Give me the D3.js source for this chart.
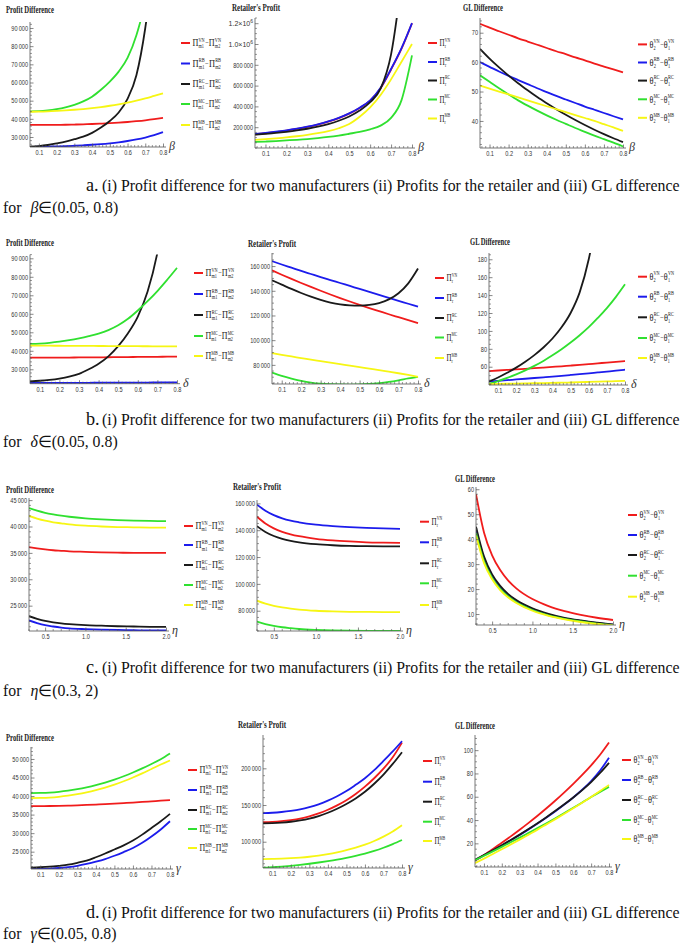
<!DOCTYPE html>
<html><head><meta charset="utf-8">
<script src="https://cdn.jsdelivr.net/npm/d3@7"></script>
<style>body{margin:0;background:#fff}svg{display:block}</style>
</head><body>
<svg id="fig" width="685" height="945"></svg>
<script>
// ---------------- data ----------------
const betaValues  = [0.05,0.1,0.15,0.2,0.25,0.3,0.35,0.4,0.45,0.5,0.55,0.6,0.65,0.7,0.75,0.8];
const deltaValues = [0.05,0.1,0.15,0.2,0.25,0.3,0.35,0.4,0.45,0.5,0.55,0.6,0.65,0.7,0.75,0.8];
const etaValues   = [0.3,0.4,0.5,0.6,0.7,0.8,1.0,1.2,1.4,1.6,1.8,2.0];
const gammaValues = [0.05,0.1,0.15,0.2,0.25,0.3,0.35,0.4,0.45,0.5,0.55,0.6,0.65,0.7,0.75,0.8];

const seriesKeys = ["VN","RB","RC","MC","MB"];

// (a) beta
const a1VN = [36700,36650,36650,36700,36750,36850,37000,37150,37350,37600,37900,38250,38700,39200,39800,40500];
const a1RB = [24600,24650,24750,24850,25000,25200,25450,25750,26100,26550,27100,27800,28650,29700,31000,32700];
const a1RC = [24700,25000,25600,26500,27500,28800,30200,32300,35200,38800,43500,51000,64000,90000,130000,200000];
const a1MC = [44100,44200,44600,45300,46300,47700,49600,52200,56000,60500,66000,73500,86000,105000,135000,180000];
const a1MB = [43900,43950,44100,44350,44650,45000,45400,45900,46500,47200,48000,48900,50000,51200,52600,54000];

const a2VN = [132000,142000,154000,167000,183000,202000,225000,253000,287000,330000,385000,455000,575000,755000,955000,1200000];
const a2RB = [135000,145000,157000,170000,186000,205000,228000,256000,290000,333000,388000,458000,580000,760000,960000,1200000];
const a2RC = [128000,136000,145000,156000,169000,185000,205000,230000,262000,303000,360000,440000,570000,900000,1600000,2500000];
const a2MC = [58000,62000,67000,73000,79000,86000,95000,106000,120000,137000,155000,180000,215000,290000,460000,890000];
const a2MB = [78000,85000,93000,102000,113000,126000,142000,162000,190000,230000,300000,390000,510000,660000,830000,1000000];

const a3VN = [73.0,71.7,70.5,69.3,68.1,67.0,65.9,64.8,63.7,62.7,61.6,60.6,59.5,58.5,57.5,56.5];
const a3RB = [60.0,58.4,56.8,55.3,53.9,52.5,51.1,49.8,48.5,47.3,46.1,44.9,43.8,42.7,41.6,40.5];
const a3RC = [64.5,61.2,58.2,55.4,52.8,50.4,48.1,46.0,44.0,42.1,40.3,38.6,37.0,35.5,34.1,32.8];
const a3MC = [55.5,53.3,51.1,49.0,47.0,45.2,43.5,41.9,40.4,39.0,37.6,36.3,35.0,33.8,32.6,31.3];
const a3MB = [52.0,51.0,50.0,49.0,48.0,47.0,46.0,45.0,44.0,43.0,42.0,41.0,40.0,38.9,37.8,36.6];

// (b) delta
const b1VN = [36300,36300,36300,36350,36350,36400,36400,36450,36500,36550,36600,36650,36700,36750,36800,36850];
const b1RB = [22600,22600,22620,22640,22660,22680,22700,22720,22740,22760,22780,22800,22830,22860,22890,22920];
const b1RC = [23500,23800,24300,25000,26000,27500,30000,33000,37000,42500,49500,58500,72000,93000,125000,170000];
const b1MC = [43700,43900,44300,44900,45700,46700,47900,49300,51200,53800,57300,61800,66800,72300,78400,84800];
const b1MB = [42800,42770,42740,42710,42680,42650,42620,42590,42560,42530,42500,42470,42440,42410,42380,42350];

const b2VN = [156500,153000,149600,146300,143100,140000,137000,134100,131300,128600,126000,123500,121000,118600,116200,113800];
const b2RB = [164000,161300,158700,156100,153600,151100,148700,146300,143900,141500,139100,136700,134300,131900,129500,127100];
const b2RC = [148500,145000,141500,138200,135200,132600,130500,129000,128200,128000,128500,130000,133000,138000,146000,158000];
const b2MC = [73700,71000,68800,67000,65600,64700,64300,64100,64000,64100,64500,65200,66200,67500,69000,70300];
const b2MB = [89500,88100,86800,85500,84200,83000,81800,80600,79400,78200,77000,75800,74500,73200,71800,70300];

const b3VN = [55.2,55.8,56.4,57.0,57.7,58.4,59.1,59.8,60.5,61.3,62.1,62.9,63.8,64.6,65.5,66.4];
const b3RB = [43.6,44.3,45.0,45.8,46.6,47.4,48.2,49.0,49.9,50.8,51.7,52.6,53.6,54.6,55.6,56.7];
const b3RC = [43.5,48.0,53.2,59.0,65.6,73.0,81.5,91.5,104,120,143,180,235,310,410,540];
const b3MC = [41,44,47.5,51.5,56,61,66.5,72.7,79.5,87,95.2,104.2,114.5,125.5,138,152];
const b3MB = [40.6,40.8,41.0,41.2,41.4,41.6,41.8,42.0,42.2,42.4,42.7,43.0,43.3,43.6,43.9,44.2];

// (c) eta
const c1VN = [36100,35850,35650,35500,35400,35300,35200,35100,35050,35000,35000,35000];
const c1RB = [22200,21700,21300,21050,20850,20700,20550,20450,20400,20350,20300,20300];
const c1RC = [23000,22500,22100,21850,21650,21500,21300,21200,21100,21050,21000,21000];
const c1MC = [43500,43000,42600,42300,42050,41850,41550,41350,41200,41100,41050,41000];
const c1MB = [42000,41500,41100,40800,40600,40400,40150,40000,39900,39850,39800,39800];

const c2VN = [150000,145000,141400,138800,136900,135500,133600,132400,131600,131000,130700,130500];
const c2RB = [159000,154500,151200,148800,147100,145900,144200,143100,142300,141700,141300,141000];
const c2RC = [143000,138700,135700,133600,132100,131000,129600,128800,128300,128100,128000,128000];
const c2MC = [71900,70000,68700,67700,67000,66400,65700,65300,65100,65000,65000,65000];
const c2MB = [87500,85300,83700,82500,81600,80900,80000,79500,79200,79100,79000,79000];

const c3VN = [58,42.6,33.5,27.6,23.4,20.3,16.0,13.2,11.2,9.7,8.5,7.6];
const c3RB = [44,32.2,25.3,20.8,17.6,15.3,12.0,9.8,8.3,7.2,6.4,5.7];
const c3RC = [45,33.0,25.9,21.3,18.0,15.6,12.3,10.1,8.5,7.4,6.5,5.8];
const c3MC = [42.5,31.1,24.5,20.1,17.0,14.7,11.6,9.5,8.1,7.0,6.1,5.5];
const c3MB = [41.5,30.4,23.9,19.6,16.6,14.4,11.3,9.3,7.9,6.8,6.0,5.4];

// (d) gamma
const d1VN = [37300,37300,37320,37360,37420,37500,37600,37710,37830,37960,38100,38250,38410,38580,38750,38930];
const d1RB = [20300,20350,20450,20600,20850,21200,21700,22300,23000,23900,24900,26000,27400,29100,31000,33200];
const d1RC = [20700,20800,20950,21200,21500,22000,22600,23500,24500,25600,26700,28000,29600,31400,33200,35200];
const d1MC = [40800,40850,40950,41150,41450,41850,42350,42950,43650,44450,45350,46350,47450,48650,49950,51500];
const d1MB = [39450,39500,39600,39800,40100,40500,41000,41600,42300,43100,44000,45000,46100,47300,48500,49600];

const d2VN = [126500,127000,128000,129500,131500,134500,138500,143500,149500,156500,165000,175000,186500,199500,215000,235000];
const d2RB = [139000,139500,140500,142000,144000,147000,151000,156000,162000,169000,177500,186500,197500,210000,223000,237000];
const d2RC = [125000,125300,126000,127200,129000,131500,135000,139500,145000,151500,159000,168000,179000,191500,206000,222000];
const d2MC = [64500,65200,66100,67200,68500,70000,71700,73600,75700,78100,80800,83900,87500,91800,96800,102300];
const d2MB = [76400,76600,77000,77600,78400,79500,81000,83000,85500,88500,92000,96000,101000,107000,114000,122500];

const d3VN = [5,10.0,15.2,20.5,26.0,31.7,37.6,43.7,50.1,56.8,63.8,71.1,78.8,87.0,96.0,106.5];
const d3RB = [5.5,9.6,13.8,18.1,22.6,27.2,32.0,37.0,42.2,47.6,53.3,59.4,66.0,73.5,82.5,93.4];
const d3RC = [6,10.0,14.1,18.4,22.9,27.5,32.3,37.3,42.5,47.9,53.5,59.4,65.7,72.6,80.4,89.1];
const d3MC = [5.5,9.3,13.1,17.0,20.9,24.9,29.0,33.1,37.3,41.6,46.0,50.5,55.0,59.7,64.2,68.5];
const d3MB = [3,6.9,10.9,14.9,19.0,23.2,27.5,31.8,36.3,40.8,45.4,50.1,54.9,59.8,64.9,70.2];

// tick values
const unitTicks = [0.1,0.2,0.3,0.4,0.5,0.6,0.7,0.8];
const etaTicks = [0.5,1.0,1.5,2.0];
const a1YTicks = [30000,40000,50000,60000,70000,80000,90000];
const a2YTicks = [200000,400000,600000,800000,1000000,1200000];
const a3YTicks = [40,50,60,70];
const b1YTicks = [30000,40000,50000,60000,70000,80000,90000];
const b2YTicks = [80000,100000,120000,140000,160000];
const b3YTicks = [60,80,100,120,140,160,180];
const c1YTicks = [25000,30000,35000,40000,45000];
const c2YTicks = [80000,100000,120000,140000,160000];
const c3YTicks = [10,20,30,40,50,60];
const d1YTicks = [25000,30000,35000,40000,45000,50000];
const d2YTicks = [100000,150000,200000];
const d3YTicks = [20,40,60,80,100];

const captionText = "(i) Profit difference for two manufacturers (ii) Profits for the retailer and (iii) GL difference";

// ---------------- drawing ----------------
const seriesColors = ["#f01c1c","#1c1cec","#1a1a1a","#30e030","#f6f614"];
const svg = d3.select("#fig");
svg.append("rect").attr("width",685).attr("height",945).attr("fill","#fff");

const thin = "\u2009";
function grp(n){ return Math.abs(n) >= 10000 ? String(n).replace(/\B(?=(\d{3})+(?!\d))/g, thin) : String(n); }
function minorTicks(d0,d1,step,majors){
  const out=[]; const s=Math.ceil(d0/step-1e-9);
  for(let i=s;i*step<=d1+1e-9;i++){ const v=+(i*step).toFixed(6); if(!majors.some(m=>Math.abs(m-v)<step/10)) out.push(v); }
  return out;
}
let clipId=0;
function compress(sel, f){ sel.each(function(){ try{ const w=this.getComputedTextLength(); if(w>0){ this.setAttribute("textLength",(w*f).toFixed(2)); this.setAttribute("lengthAdjust","spacingAndGlyphs"); } }catch(e){} }); }
const legendWidth = {diff:29, ret:11, gl:25};

function drawPanel(p){
  const g = svg.append("g");
  const x = d3.scaleLinear().domain(p.xd).range(p.xr);
  const y = d3.scaleLinear().domain(p.yd).range(p.yr);
  const yb = p.yr[0], xl = p.xr[0];
  const id = "clip"+(clipId++);
  g.append("clipPath").attr("id",id).append("rect")
    .attr("x",p.xr[0]).attr("y",p.yr[1]).attr("width",p.xr[1]-p.xr[0]+2).attr("height",p.yr[0]-p.yr[1]);
  const line = d3.line().x(d=>x(d[0])).y(d=>y(d[1])).curve(d3.curveMonotoneX);
  const lg = g.append("g").attr("clip-path",`url(#${id})`);
  p.series.forEach((s,i)=>{
    lg.append("path").attr("d", line(p.xs.map((v,j)=>[v,s[j]])))
      .attr("fill","none").attr("stroke",seriesColors[i]).attr("stroke-width",1.8);
  });
  const axCol="#555";
  // x axis
  const xa = d3.axisBottom(x).tickValues(p.xMajor).tickFormat(p.xFmt).tickSizeInner(-3.5).tickSizeOuter(0).tickPadding(3);
  const gx = g.append("g").attr("transform",`translate(0,${yb})`).call(xa);
  gx.select(".domain").remove();
  gx.selectAll("line").attr("stroke",axCol).attr("stroke-width",0.7);
  gx.selectAll("text").attr("fill","#333").style("font-family","Liberation Sans").style("font-size","7px");
  compress(gx.selectAll("text"),0.8);
  minorTicks(p.xd[0],p.xd[1],p.xMinor,p.xMajor).forEach(v=>{
    g.append("line").attr("x1",x(v)).attr("x2",x(v)).attr("y1",yb).attr("y2",yb-2).attr("stroke",axCol).attr("stroke-width",0.6);
  });
  g.append("line").attr("x1",xl).attr("x2",p.xr[1]+3).attr("y1",yb).attr("y2",yb).attr("stroke",axCol).attr("stroke-width",0.8);
  // y axis
  const ya = d3.axisLeft(y).tickValues(p.yMajor).tickFormat(p.yFmt||grp).tickSizeInner(-3.5).tickSizeOuter(0).tickPadding(2);
  const gy = g.append("g").attr("transform",`translate(${xl},0)`).call(ya);
  gy.select(".domain").remove();
  gy.selectAll("line").attr("stroke",axCol).attr("stroke-width",0.7);
  gy.selectAll("text").attr("fill","#333").style("font-family","Liberation Sans").style("font-size","7px");
  if(p.sci){
    gy.selectAll("text").each(function(d){
      if(d>=1e6){ const t=d3.select(this); t.text(""); t.append("tspan").text((d/1e6).toFixed(1)+"\u00d710");
        t.append("tspan").attr("dy","-3").style("font-size","5px").text("6"); }
    });
  }
  compress(gy.selectAll("text").filter(d=>!(p.sci && d>=1e6)),0.8);
  minorTicks(p.yd[0],p.yd[1],p.yMinor,p.yMajor).forEach(v=>{
    g.append("line").attr("x1",xl).attr("x2",xl+2).attr("y1",y(v)).attr("y2",y(v)).attr("stroke",axCol).attr("stroke-width",0.6);
  });
  g.append("line").attr("x1",xl).attr("x2",xl).attr("y1",yb).attr("y2",p.yr[1]).attr("stroke",axCol).attr("stroke-width",0.8);
  // variable label
  g.append("text").attr("x",p.xr[1]+6).attr("y",yb+3).text(p.varName)
    .style("font-family","Liberation Serif").style("font-style","italic").style("font-size","12px").attr("fill","#333");
  // title
  g.append("text").attr("x",p.title[1]).attr("y",p.title[2]).text(p.title[0])
    .attr("textLength",p.title[3]).attr("lengthAdjust","spacingAndGlyphs")
    .style("font-family","Liberation Serif").style("font-weight","bold").style("font-size","10.5px").attr("fill","#222");
  // legend
  p.legend.ys.forEach((ly,i)=>{
    const k=seriesKeys[i];
    g.append("line").attr("x1",p.legend.x).attr("x2",p.legend.x+9).attr("y1",ly).attr("y2",ly)
      .attr("stroke",seriesColors[i]).attr("stroke-width",2);
    let parts;
    if(p.legend.type==="diff") parts=[{m:"\u03a0",sup:k,sub:"m1"},{m:"\u2212"},{m:"\u03a0",sup:k,sub:"m2"}];
    else if(p.legend.type==="ret") parts=[{m:"\u03a0",sup:k,sub:"r"}];
    else parts=[{m:"\u03b8",sup:k,sub:"2"},{m:"\u2212"},{m:"\u03b8",sup:k,sub:"1"}];
    const x0 = p.legend.x+11.5;
    const tg = g.append("g");
    let cx=x0;
    parts.forEach(pt=>{
      const isOp = pt.m==="\u2212";
      const t=tg.append("text").attr("x",cx).attr("y",ly+(isOp?2.5:3.5)).text(pt.m)
        .style("font-family","Liberation Serif").style("font-size",isOp?"8px":"10.5px").attr("fill","#222");
      cx += t.node().getComputedTextLength()+ (isOp?0.3:0.2);
      if(pt.sup){
        const s1=tg.append("text").attr("x",cx).attr("y",ly-1.2).text(pt.sup)
          .style("font-family","Liberation Serif").style("font-size","5.5px").attr("fill","#222");
        const s2=tg.append("text").attr("x",cx).attr("y",ly+5.5).text(pt.sub)
          .style("font-family","Liberation Serif").style("font-size","5.5px").attr("fill","#222");
        cx += Math.max(s1.node().getComputedTextLength(), s2.node().getComputedTextLength())+0.6;
      }
    });
    const w = cx - x0;
    const kx = Math.min(1, legendWidth[p.legend.type]/w);
    tg.attr("transform",`translate(${x0},0) scale(${kx},1) translate(${-x0},0)`);
  });
}

const fmt1 = d3.format(".1f");
const panels = [
  {xs:betaValues, series:[a1VN,a1RB,a1RC,a1MC,a1MB], xd:[0.05,0.8], xr:[30,163], yd:[24500,93300], yr:[147,22],
   xMajor:unitTicks, xMinor:0.02, xFmt:fmt1, yMajor:a1YTicks, yMinor:2000, varName:"\u03b2",
   title:["Profit Difference",6,13,48], legend:{type:"diff",x:181,ys:[43,63.5,84,104,125]}},
  {xs:betaValues, series:[a2VN,a2RB,a2RC,a2MC,a2MB], xd:[0.05,0.8], xr:[255,412], yd:[0,1250000], yr:[148,18],
   xMajor:unitTicks, xMinor:0.02, xFmt:fmt1, yMajor:a2YTicks, yMinor:50000, sci:true, varName:"\u03b2",
   title:["Retailer's Profit",232,11,48], legend:{type:"ret",x:428,ys:[43,62,80.5,99.5,118.5]}},
  {xs:betaValues, series:[a3VN,a3RB,a3RC,a3MC,a3MB], xd:[0.05,0.8], xr:[480,623], yd:[30.8,75], yr:[148,18],
   xMajor:unitTicks, xMinor:0.02, xFmt:fmt1, yMajor:a3YTicks, yMinor:2, varName:"\u03b2",
   title:["GL Difference",463,11,40], legend:{type:"gl",x:638,ys:[44.4,62.5,80.6,99.3,117.8]}},

  {xs:deltaValues, series:[b1VN,b1RB,b1RC,b1MC,b1MB], xd:[0.05,0.8], xr:[30,177], yd:[22200,92000], yr:[383.7,254.6],
   xMajor:unitTicks, xMinor:0.02, xFmt:fmt1, yMajor:b1YTicks, yMinor:2000, varName:"\u03b4",
   title:["Profit Difference",6,246,48], legend:{type:"diff",x:194,ys:[273,294,315,336,356]}},
  {xs:deltaValues, series:[b2VN,b2RB,b2RC,b2MC,b2MB], xd:[0.05,0.8], xr:[272,418], yd:[64500,170600], yr:[384,253],
   xMajor:unitTicks, xMinor:0.02, xFmt:fmt1, yMajor:b2YTicks, yMinor:5000, varName:"\u03b4",
   title:["Retailer's Profit",248,247,48], legend:{type:"ret",x:435,ys:[278,298,318,337.5,358]}},
  {xs:deltaValues, series:[b3VN,b3RB,b3RC,b3MC,b3MB], xd:[0.05,0.8], xr:[489,625], yd:[39.6,187], yr:[385,253],
   xMajor:unitTicks, xMinor:0.02, xFmt:fmt1, yMajor:b3YTicks, yMinor:5, varName:"\u03b4",
   title:["GL Difference",470,245,40], legend:{type:"gl",x:638,ys:[276.7,296.7,317.3,338,358]}},

  {xs:etaValues, series:[c1VN,c1RB,c1RC,c1MC,c1MB], xd:[0.3,2], xr:[29,166], yd:[20200,45400], yr:[631,498],
   xMajor:etaTicks, xMinor:0.1, xFmt:fmt1, yMajor:c1YTicks, yMinor:1000, varName:"\u03b7",
   title:["Profit Difference",6,493,48], legend:{type:"diff",x:184,ys:[526,545,565,585,605]}},
  {xs:etaValues, series:[c2VN,c2RB,c2RC,c2MC,c2MB], xd:[0.3,2], xr:[257,400], yd:[64900,162500], yr:[631,500],
   xMajor:etaTicks, xMinor:0.1, xFmt:fmt1, yMajor:c2YTicks, yMinor:5000, varName:"\u03b7",
   title:["Retailer's Profit",233,490,48], legend:{type:"ret",x:420,ys:[521.7,542.3,563.3,583.3,605]}},
  {xs:etaValues, series:[c3VN,c3RB,c3RC,c3MC,c3MB], xd:[0.3,2], xr:[476,613], yd:[5.6,60.9], yr:[625,487],
   xMajor:etaTicks, xMinor:0.1, xFmt:fmt1, yMajor:c3YTicks, yMinor:2, varName:"\u03b7",
   title:["GL Difference",455,482,40], legend:{type:"gl",x:628,ys:[515,535,555,575.7,596.7]}},

  {xs:gammaValues, series:[d1VN,d1RB,d1RC,d1MC,d1MB], xd:[0.05,0.8], xr:[31,170], yd:[20330,53230], yr:[869,747],
   xMajor:unitTicks, xMinor:0.02, xFmt:fmt1, yMajor:d1YTicks, yMinor:1000, varName:"\u03b3",
   title:["Profit Difference",6,741,48], legend:{type:"diff",x:188,ys:[770,790,810,829,848]}},
  {xs:gammaValues, series:[d2VN,d2RB,d2RC,d2MC,d2MB], xd:[0.05,0.8], xr:[263,402], yd:[64200,245400], yr:[868,735],
   xMajor:unitTicks, xMinor:0.02, xFmt:fmt1, yMajor:d2YTicks, yMinor:10000, varName:"\u03b3",
   title:["Retailer's Profit",238,728,48], legend:{type:"ret",x:423,ys:[761,781.7,801.7,821.7,841]}},
  {xs:gammaValues, series:[d3VN,d3RB,d3RC,d3MC,d3MB], xd:[0.05,0.8], xr:[475,609], yd:[-0.3,113], yr:[867,735],
   xMajor:unitTicks, xMinor:0.02, xFmt:fmt1, yMajor:d3YTicks, yMinor:5, varName:"\u03b3",
   title:["GL Difference",455,729,40], legend:{type:"gl",x:622,ys:[760,780,800,820,839]}}
];
panels.forEach(drawPanel);

// captions: font size chosen so the first line spans x = 102..682
const captions = [
  {letter:"a", y1:191, y2:213, sym:"\u03b2", range:"(0.05, 0.8)"},
  {letter:"b", y1:425, y2:447, sym:"\u03b4", range:"(0.05, 0.8)"},
  {letter:"c", y1:673, y2:696, sym:"\u03b7", range:"(0.3, 2)"},
  {letter:"d", y1:918, y2:939, sym:"\u03b3", range:"(0.05, 0.8)"}
];
let capSize = 16;
{
  const probe = svg.append("text").style("font-family","Liberation Serif").style("font-size","16px").text(captionText);
  const w = probe.node().getComputedTextLength();
  if (w > 0) capSize = 16 * 578 / w;
  probe.remove();
}
captions.forEach(c=>{
  svg.append("text").attr("x",86).attr("y",c.y1).text(c.letter+".")
    .style("font-family","Liberation Serif").style("font-size",(capSize*1.15)+"px").attr("fill","#111");
  svg.append("text").attr("x",102).attr("y",c.y1).text(captionText)
    .style("font-family","Liberation Serif").style("font-size",capSize+"px").attr("fill","#111");
  const t = svg.append("text").attr("x",3).attr("y",c.y2)
    .style("font-family","Liberation Serif").style("font-size",capSize+"px").attr("fill","#111");
  t.append("tspan").text("for ");
  t.append("tspan").attr("dx","5").style("font-style","italic").text(c.sym);
  t.append("tspan").text("\u2208" + c.range);
});
</script>
</body></html>
